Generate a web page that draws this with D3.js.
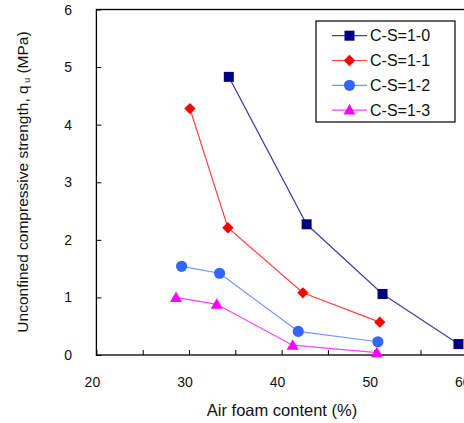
<!DOCTYPE html>
<html><head><meta charset="utf-8">
<script src="https://cdn.jsdelivr.net/npm/d3@7"></script>
<style>body{margin:0;background:#fff}svg{display:block}text{font-family:"Liberation Sans",Arial,sans-serif;fill:#111}</style>
</head><body><svg id="c" width="464" height="423"></svg>
<script>
const seriesNames = ["C-S=1-0","C-S=1-1","C-S=1-2","C-S=1-3"];
const s10x = [34.3, 42.7, 50.9, 59.1];
const s10y = [4.83, 2.27, 1.06, 0.19];
const s11x = [30.1, 34.2, 42.3, 50.6];
const s11y = [4.28, 2.21, 1.08, 0.57];
const s12x = [29.2, 33.3, 41.8, 50.4];
const s12y = [1.54, 1.42, 0.41, 0.23];
const s13x = [28.6, 33.0, 41.2, 50.3];
const s13y = [1.0, 0.88, 0.17, 0.04];
const xTicks = [20, 30, 40, 50, 60];
const yTicks = [0, 1, 2, 3, 4, 5, 6];

const lineColors = ["#000080", "#ff0000", "#3f73ff", "#ff00ff"];
const markColors = ["#000080", "#ff0000", "#3366ff", "#ff00ff"];
const data = [[s10x,s10y],[s11x,s11y],[s12x,s12y],[s13x,s13y]].map(([xs,ys],i)=>({name:seriesNames[i], pts:xs.map((x,j)=>[x,ys[j]])}));

function marker(sel, i) {
  if (i === 0) sel.append("rect").attr("x",-5).attr("y",-5).attr("width",10).attr("height",10).attr("fill",markColors[i]);
  else if (i === 1) sel.append("rect").attr("x",-4).attr("y",-4).attr("width",8).attr("height",8).attr("transform","rotate(45)").attr("fill",markColors[i]);
  else if (i === 2) sel.append("circle").attr("r",5.6).attr("fill",markColors[i]);
  else sel.append("path").attr("d","M0,-6L6,4.5L-6,4.5Z").attr("fill",markColors[i]);
}

const svg = d3.select("#c");
const x = d3.scaleLinear().domain([20,60]).range([96.4, 466.8]);
const y = d3.scaleLinear().domain([0,6]).range([355, 9.5]);

// frame
svg.append("rect").attr("x",96.4).attr("y",9.5).attr("width",370.4).attr("height",345.5)
  .attr("fill","none").attr("stroke","#000").attr("stroke-width",1.3);

const xa = svg.append("g").attr("transform","translate(0,355)")
  .call(d3.axisBottom(x).tickValues(d3.range(20,61,5)).tickSize(-5).tickFormat(""));
xa.select(".domain").remove();
xa.selectAll("line").attr("stroke","#000");
svg.selectAll(".xl").data(xTicks).join("text").attr("class","xl")
  .attr("x",d=>x(d)-4).attr("y",386.5).attr("text-anchor","middle").attr("font-size",14).text(d=>d);

const ya = svg.append("g").attr("transform","translate(96.4,0)")
  .call(d3.axisLeft(y).tickValues(yTicks).tickSize(-5).tickFormat(""));
ya.select(".domain").remove();
ya.selectAll("line").attr("stroke","#000");
svg.selectAll(".yl").data(yTicks).join("text").attr("class","yl")
  .attr("x",72).attr("y",d=>y(d)+5).attr("text-anchor","end").attr("font-size",14).text(d=>d);

// titles
svg.append("text").attr("x",282).attr("y",416).attr("text-anchor","middle").attr("font-size",16.5).text("Air foam content (%)");
const yt = svg.append("text").attr("transform","translate(28,182) rotate(-90)").attr("text-anchor","middle").attr("font-size",15.5);
yt.append("tspan").text("Unconfined compressive strength, q");
yt.append("tspan").attr("font-size",9).attr("dy",2).text(" u");
yt.append("tspan").attr("dy",-2).text(" (MPa)");

const line = d3.line().x(d=>x(d[0])).y(d=>y(d[1]));
data.forEach((s,i)=>{
  svg.append("path").attr("d",line(s.pts)).attr("fill","none").attr("stroke",lineColors[i]).attr("stroke-width",1.2).attr("stroke-opacity",0.75);
  s.pts.forEach(p=>{
    marker(svg.append("g").attr("transform",`translate(${x(p[0])},${y(p[1])})`), i);
  });
});

// legend
const lg = svg.append("g");
lg.append("rect").attr("x",316).attr("y",21).attr("width",139).attr("height",101).attr("fill","#fff").attr("stroke","#000").attr("stroke-width",1.2);
data.forEach((s,i)=>{
  const ly = 35.7 + i*24.8;
  lg.append("line").attr("x1",332).attr("x2",367).attr("y1",ly).attr("y2",ly).attr("stroke",lineColors[i]).attr("stroke-width",1.2).attr("stroke-opacity",0.75);
  marker(lg.append("g").attr("transform",`translate(349.5,${ly})`), i);
  lg.append("text").attr("x",370).attr("y",ly+5.5).attr("font-size",16).text(s.name);
});
</script></body></html>
